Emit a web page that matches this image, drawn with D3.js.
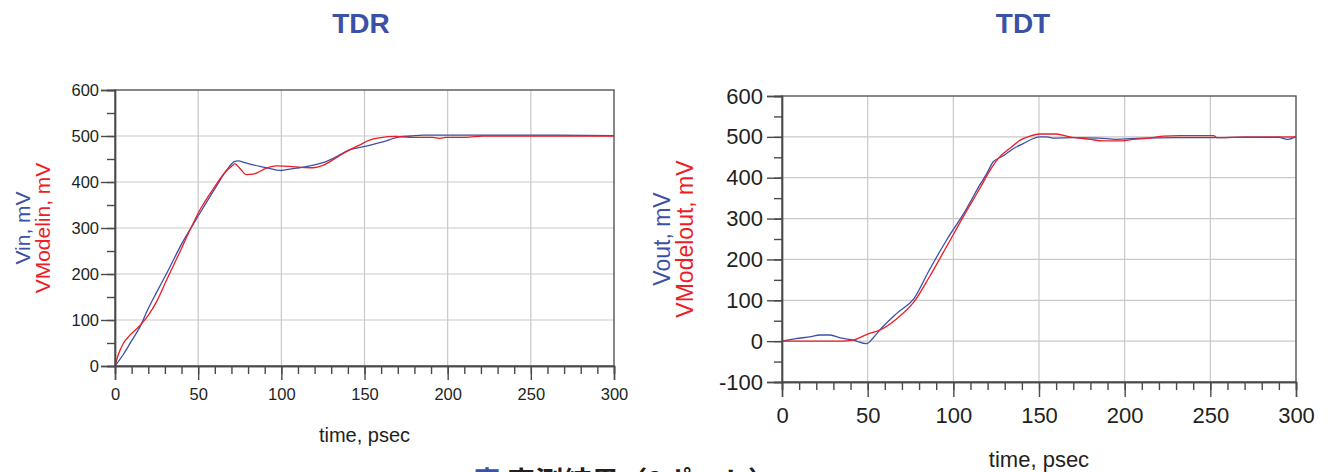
<!DOCTYPE html>
<html>
<head>
<meta charset="utf-8">
<script src="https://cdn.jsdelivr.net/npm/d3@7"></script>
<style>
  body { margin: 0; background: #fff; }
  svg text { font-family: "Liberation Sans", Arial, sans-serif; }
</style>
</head>
<body>
<div id="chart"></div>
<script>
// Data ----------------------------------------------------------------------------------------------------------------
const tdrVinTime = [0, 5, 10, 15, 20, 25, 31, 40, 51, 60, 68, 72, 74, 78, 83, 90, 100, 105, 111, 120, 125, 131, 141, 151,
  161, 171, 178, 185, 200, 250, 300];
const tdrVin = [0, 25, 55, 85, 125, 160, 201, 265, 332, 385, 430, 445, 446, 442, 437, 432, 425, 428, 431, 437, 442, 451,
  470, 478, 487, 498, 500, 502, 502, 502, 501];

const tdrModelTime = [0, 2, 5, 9, 15, 20, 25, 31, 39, 45, 51, 60, 66, 71, 72, 75, 79, 83, 91, 97, 105, 112, 119, 125, 131,
  141, 147, 153, 159, 169, 177, 185, 191, 195, 199, 211, 221, 250, 300];
const tdrVModelin = [0, 25, 49, 67, 88, 110, 140, 187, 248, 295, 339, 390, 420, 437, 440, 430, 416, 417, 430, 435, 434,
  432, 431, 436, 448, 470, 480, 491, 496, 499, 497, 497, 497, 495, 497, 497, 500, 500, 500];

const tdtVoutTime = [0, 8, 17, 22, 28, 34, 42, 49.4, 53, 57, 67, 77, 86, 96, 106, 116, 119.5, 123.3, 129, 135, 141,
  146.7, 150.6, 154.5, 158, 170, 185, 195, 210, 230, 255.6, 270, 290, 295, 300];
const tdtVout = [0, 6, 11, 15, 15, 8, 2, -6, 7, 27, 68, 104, 174, 247, 312, 386, 410, 439, 453, 471, 484, 496, 500, 500,
  497, 498, 497, 494, 497, 498, 498, 499, 499, 494, 500];

const tdtModelTime = [0, 34, 42, 45, 51, 57, 67, 77, 86, 96, 106, 116, 121.4, 127, 133, 139, 144.7, 150.6, 160, 168,
  180, 187.5, 197, 205, 215, 222.6, 232, 252, 254, 270, 300];
const tdtVModelout = [0, 0, 3, 8, 19, 27, 55, 96, 157, 231, 306, 378, 418, 451, 472, 492, 502, 507, 507, 500, 494, 490,
  490, 494, 497, 502, 503, 503, 498, 499, 500];

const timeMajorTicks = [0, 50, 100, 150, 200, 250, 300];
const timeMinorTicks = d3.range(0, 301, 10);
const tdrMajorTicks = [0, 100, 200, 300, 400, 500, 600];
const tdrMinorTicks = d3.range(0, 601, 50);
const tdtMajorTicks = [-100, 0, 100, 200, 300, 400, 500, 600];
const tdtMinorTicks = d3.range(-100, 601, 50);

// Canvas --------------------------------------------------------------------------------------------------------------
const canvasWidth = 1333;
const canvasHeight = 472;
const blue = "#3b51a6";
const red = "#ee1c25";

const svg = d3.select("#chart")
  .append("svg")
  .attr("width", canvasWidth)
  .attr("height", canvasHeight);

function drawPanel(p) {
  const xScale = d3.scaleLinear().domain([0, 300]).range([p.left, p.right]);
  const yScale = d3.scaleLinear().domain(p.yDomain).range([p.bottom, p.top]);
  const g = svg.append("g");

  // grid
  g.append("g").selectAll("line.gx")
    .data(timeMajorTicks.slice(1, -1))
    .enter().append("line")
    .attr("x1", d => xScale(d)).attr("x2", d => xScale(d))
    .attr("y1", p.top).attr("y2", p.bottom)
    .style("stroke", "#c9c9c9").style("stroke-width", 1.2);
  g.append("g").selectAll("line.gy")
    .data(p.yMajor.slice(1, -1))
    .enter().append("line")
    .attr("x1", p.left).attr("x2", p.right)
    .attr("y1", d => yScale(d)).attr("y2", d => yScale(d))
    .style("stroke", "#c9c9c9").style("stroke-width", 1.2);

  // frame
  g.append("rect")
    .attr("x", p.left).attr("y", p.top)
    .attr("width", p.right - p.left).attr("height", p.bottom - p.top)
    .style("fill", "none").style("stroke", "#555").style("stroke-width", 1.4);

  // series
  const line = d3.line()
    .x(d => xScale(d[0]))
    .y(d => yScale(d[1]))
    .curve(d3.curveMonotoneX);
  p.series.forEach(function(s) {
    g.append("path")
      .datum(d3.zip(s.t, s.v))
      .attr("d", line)
      .style("fill", "none")
      .style("stroke", s.color)
      .style("stroke-width", 1.3);
  });

  // axes
  const fmt = d => String(d);
  const xMinor = g.append("g")
    .attr("transform", "translate(0," + p.bottom + ")")
    .call(d3.axisBottom(xScale).tickValues(timeMinorTicks).tickSize(p.minorTick).tickFormat(""));
  const xMajor = g.append("g")
    .attr("transform", "translate(0," + p.bottom + ")")
    .call(d3.axisBottom(xScale).tickValues(timeMajorTicks).tickSize(p.majorTick).tickPadding(p.xPad).tickFormat(fmt));
  const yMinor = g.append("g")
    .attr("transform", "translate(" + p.left + ",0)")
    .call(d3.axisLeft(yScale).tickValues(p.yMinor).tickSize(p.minorTick).tickFormat(""));
  const yMajor = g.append("g")
    .attr("transform", "translate(" + p.left + ",0)")
    .call(d3.axisLeft(yScale).tickValues(p.yMajor).tickSize(p.majorTick).tickPadding(p.yPad).tickFormat(fmt));

  [xMinor, xMajor, yMinor, yMajor].forEach(function(a) {
    a.selectAll("path, line").style("stroke", "#4a4a4a").style("stroke-width", 1.4);
    a.selectAll("text")
      .style("font-family", "Liberation Sans, Arial, sans-serif")
      .style("font-size", p.tickFont + "px")
      .style("fill", "#231f20");
  });

  // axis titles
  g.append("text")
    .text("time, psec")
    .attr("x", xScale(150))
    .attr("y", p.xTitleY)
    .style("text-anchor", "middle")
    .style("font-size", p.xTitleFont + "px")
    .style("fill", "#231f20");

  const yMid = (p.top + p.bottom) / 2;
  p.yTitles.forEach(function(t) {
    g.append("text")
      .text(t.text)
      .attr("transform", "translate(" + t.x + "," + yMid + ") rotate(-90)")
      .style("text-anchor", "middle")
      .style("font-size", p.yTitleFont + "px")
      .style("fill", t.color);
  });

  // title
  g.append("text")
    .text(p.title)
    .attr("x", p.titleX)
    .attr("y", 33)
    .style("text-anchor", "middle")
    .style("font-size", "28px")
    .style("font-weight", "bold")
    .style("fill", blue);
}

drawPanel({
  title: "TDR", titleX: 361,
  left: 115, right: 614, top: 90, bottom: 366,
  yDomain: [0, 600], yMajor: tdrMajorTicks, yMinor: tdrMinorTicks,
  majorTick: 14, minorTick: 8, xPad: 8, yPad: 2,
  tickFont: 16.5, xTitleFont: 20, xTitleY: 442, yTitleFont: 21,
  yTitles: [
    { text: "Vin, mV", x: 30, color: blue },
    { text: "VModelin, mV", x: 50, color: red }
  ],
  series: [
    { t: tdrVinTime, v: tdrVin, color: blue },
    { t: tdrModelTime, v: tdrVModelin, color: red }
  ]
});

drawPanel({
  title: "TDT", titleX: 1023,
  left: 782, right: 1296, top: 96, bottom: 382,
  yDomain: [-100, 600], yMajor: tdtMajorTicks, yMinor: tdtMinorTicks,
  majorTick: 15, minorTick: 8, xPad: 10, yPad: 4,
  tickFont: 22, xTitleFont: 22, xTitleY: 467, yTitleFont: 23,
  yTitles: [
    { text: "Vout, mV", x: 670, color: blue },
    { text: "VModelout, mV", x: 693, color: red }
  ],
  series: [
    { t: tdtVoutTime, v: tdtVout, color: blue },
    { t: tdtModelTime, v: tdtVModelout, color: red }
  ]
});

// Caption (cut off by the bottom edge, as in the source figure) ------------------------------------------------------
const caption = svg.append("text")
  .attr("x", 473)
  .attr("y", 492)
  .style("font-family", "Noto Sans CJK JP, sans-serif")
  .style("font-size", "28px")
  .style("font-weight", "bold");
caption.append("tspan").text("表").style("fill", blue);
caption.append("tspan").text(" 実測結果（2ポート）").style("fill", "#231f20");
</script>
</body>
</html>
